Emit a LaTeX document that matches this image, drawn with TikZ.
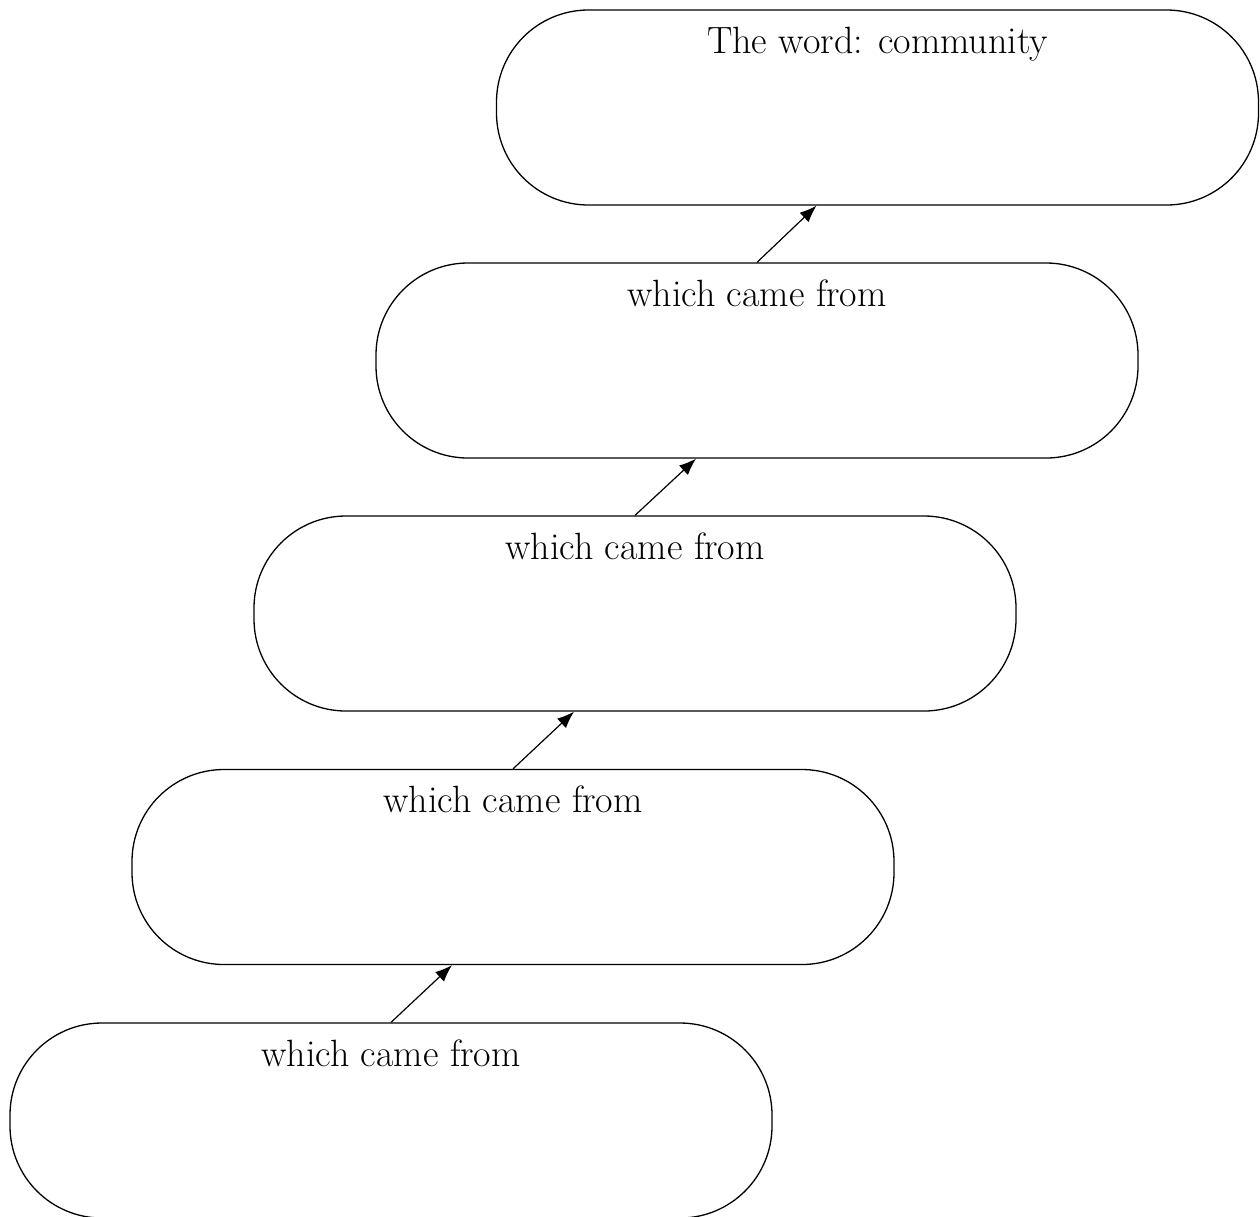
\documentclass[tikz,border=0pt]{standalone}
\usepackage{tikz}
\usetikzlibrary{arrows.meta}
\tikzset{wordbox/.style={draw, line width=1.3pt, rounded corners=92pt,
    minimum width=762pt, minimum height=195pt, inner sep=0pt}}
\newcommand{\wordbox}[4]{
\node[wordbox, label={[anchor=base, yshift=-44pt, inner sep=0pt,
    font=\fontsize{38}{44}\selectfont]north:#4}] (#1) at (#2,#3) {};
}
\newcommand{\drawarrow}{\draw[line width=1.2pt, -{Latex[length=17pt,width=13pt]}]}

\begin{document}
\begin{tikzpicture}[x=1pt,y=-1pt]
\useasboundingbox (0,0) rectangle (1260,1216);
\wordbox{word}{877.5}{107.5}{The word: community}
\wordbox{from1}{757}{360.5}{which came from}
\wordbox{from2}{635}{613.5}{which came from}
\wordbox{from3}{513}{867}{which came from}
\wordbox{from4}{391}{1120.5}{which came from}
\drawarrow (from4.north) -- ([xshift=-61pt]from3.south);
\drawarrow (from3.north) -- ([xshift=-61pt]from2.south);
\drawarrow (from2.north) -- ([xshift=-61pt]from1.south);
\drawarrow (from1.north) -- ([xshift=-61pt]word.south);
\end{tikzpicture}
\end{document}
